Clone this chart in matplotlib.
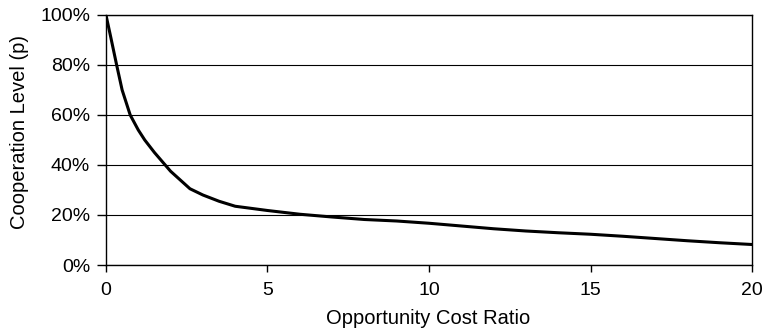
import matplotlib
matplotlib.use("Agg")
import matplotlib.pyplot as plt
from matplotlib.ticker import FuncFormatter

plt.rcParams['font.family'] = ['Liberation Sans', 'DejaVu Sans']

ratio = [0, 0.15, 0.33, 0.5, 0.75, 1.0, 1.2, 1.5, 2.0, 2.6, 3.0, 3.5, 4.0, 5.0, 6.0, 7.0, 8.0, 9.0,
         10.0, 11.0, 12.0, 13.0, 14.0, 15.0, 16.0, 17.0, 18.0, 19.0, 20.0]
coop = [100, 91, 80, 70, 60, 54, 50, 45, 37.5, 30.5, 28, 25.5, 23.5, 21.8, 20.3, 19.2, 18.2, 17.6,
        16.7, 15.6, 14.5, 13.6, 12.9, 12.3, 11.5, 10.6, 9.7, 8.9, 8.2]
xticks = [0, 5, 10, 15, 20]
yticks = [0, 20, 40, 60, 80, 100]

fig = plt.figure(figsize=(7.63, 3.33), dpi=100)
ax = fig.add_axes([0.1389, 0.2042, 0.8467, 0.7508])
ax.plot(ratio, coop, color='black', lw=2.2, zorder=3, solid_joinstyle='round')
ax.set_xlim(0, 20)
ax.set_ylim(0, 100)
ax.set_xticks(xticks)
ax.set_yticks(yticks)
ax.yaxis.set_major_formatter(FuncFormatter(lambda v, p: f"{int(v)}%"))
ax.grid(axis='y', color='black', lw=0.8)
ax.set_axisbelow(True)
for s in ax.spines.values():
    s.set_color('black')
    s.set_linewidth(1.0)
ax.tick_params(axis='y', direction='out', length=6.5, width=1.0, labelsize=14, colors='black', pad=5)
ax.tick_params(axis='x', direction='out', length=5, width=1.0, labelsize=14, colors='black', pad=7)
ax.set_xlabel('Opportunity Cost Ratio', fontsize=14.5)
ax.set_ylabel('Cooperation Level (p)', fontsize=14.5)
ax.xaxis.set_label_coords(428.5 / 763, 1 - 318 / 333, transform=fig.transFigure)
ax.xaxis.label.set_verticalalignment('center')
ax.yaxis.set_label_coords(20 / 763, 1 - 132 / 333, transform=fig.transFigure)
ax.yaxis.label.set_verticalalignment('center')
fig.savefig('out.png', dpi=100)
